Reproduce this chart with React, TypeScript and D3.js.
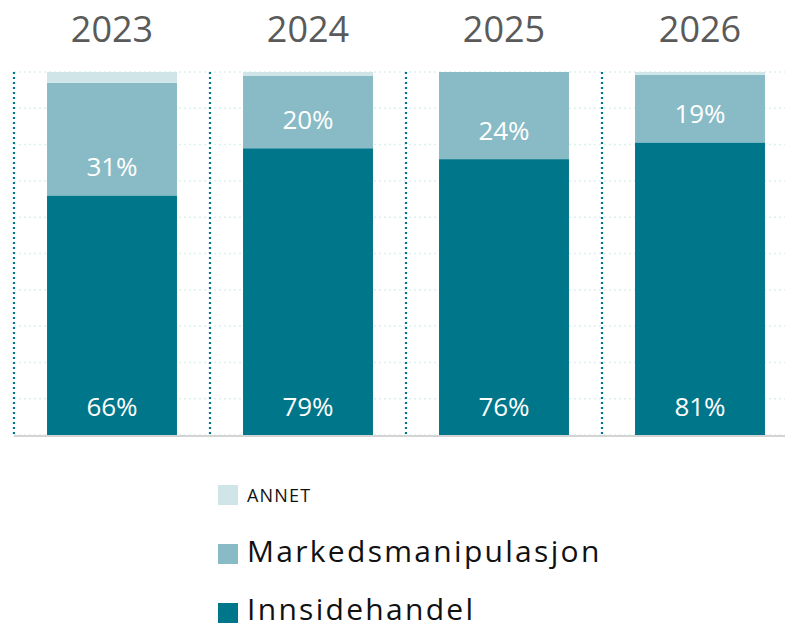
import React, { useEffect, useRef } from 'react';
import * as d3 from 'd3';

// Data
const years = ['2023', '2024', '2025', '2026'];
const innsidehandel = [66, 79, 76, 80.6];
const markedsmanipulasjon = [31, 20, 24, 18.6];
const annet = [3, 1, 0, 0.8];
const seriesNames = ['Innsidehandel', 'Markedsmanipulasjon', 'ANNET'];
const seriesColors = ['#00768a', '#88bbc5', '#d0e5e8'];
const gridTicks = [0, 10, 20, 30, 40, 50, 60, 70, 80, 90, 100];

const App: React.FC = () => {
  const ref = useRef<SVGSVGElement | null>(null);

  useEffect(() => {
    const width = 785;
    const height = 624;
    const plotLeft = 14;
    const plotRight = 798;
    const plotTop = 72;
    const plotBottom = 435;
    const font = '"Open Sans", "Noto Sans", sans-serif';

    const svg = d3.select(ref.current).attr('width', width).attr('height', height);
    svg.selectAll('*').remove();

    // scales
    const band = d3.scaleBand<string>().domain(years).range([plotLeft, plotRight]).padding(0);
    const xScale = d3
      .scaleBand<string>()
      .domain(years)
      .range([plotLeft, plotRight])
      .paddingInner(0.337)
      .paddingOuter(0.1685);
    const yScale = d3.scaleLinear().domain([0, 100]).range([plotBottom, plotTop]);

    const rows = years.map((y, i) => ({
      year: y,
      Innsidehandel: innsidehandel[i],
      Markedsmanipulasjon: markedsmanipulasjon[i],
      ANNET: annet[i],
    }));
    const stack = d3.stack<any>().keys(seriesNames)(rows);

    // gridlines
    svg
      .append('g')
      .selectAll('line')
      .data(gridTicks)
      .enter()
      .append('line')
      .attr('x1', plotLeft)
      .attr('x2', width)
      .attr('y1', (d) => yScale(d))
      .attr('y2', (d) => yScale(d))
      .attr('stroke', '#dcf0f2')
      .attr('stroke-width', 1.5)
      .attr('stroke-dasharray', '2,3');

    // bars
    stack.forEach((layer, li) => {
      svg
        .append('g')
        .selectAll('rect')
        .data(layer)
        .enter()
        .append('rect')
        .attr('x', (d: any) => xScale(d.data.year) || 0)
        .attr('width', xScale.bandwidth())
        .attr('y', (d) => yScale(d[1]))
        .attr('height', (d) => Math.max(0, yScale(d[0]) - yScale(d[1])))
        .attr('fill', seriesColors[li]);
    });

    // value labels (first two series)
    stack.slice(0, 2).forEach((layer) => {
      svg
        .append('g')
        .selectAll('text')
        .data(layer)
        .enter()
        .append('text')
        .attr('x', (d: any) => (xScale(d.data.year) || 0) + xScale.bandwidth() / 2)
        .attr('y', (d) => yScale(d[0]) - 19)
        .attr('text-anchor', 'middle')
        .attr('fill', '#ffffff')
        .style('font-family', font)
        .style('font-size', '26px')
        .text((d) => `${Math.round(d[1] - d[0])}%`);
    });

    // dotted separators
    svg
      .append('g')
      .selectAll('line')
      .data(years)
      .enter()
      .append('line')
      .attr('x1', (d) => band(d) || 0)
      .attr('x2', (d) => band(d) || 0)
      .attr('y1', plotTop)
      .attr('y2', plotBottom)
      .attr('stroke', '#00768a')
      .attr('stroke-width', 2.2)
      .attr('stroke-dasharray', '2,3');

    // baseline
    svg
      .append('line')
      .attr('x1', plotLeft)
      .attr('x2', width)
      .attr('y1', plotBottom + 1)
      .attr('y2', plotBottom + 1)
      .attr('stroke', '#d4d4d4')
      .attr('stroke-width', 2);

    // year labels on top
    svg
      .append('g')
      .selectAll('text')
      .data(years)
      .enter()
      .append('text')
      .attr('x', (d) => (xScale(d) || 0) + xScale.bandwidth() / 2)
      .attr('y', 42)
      .attr('text-anchor', 'middle')
      .attr('fill', '#5a5a5a')
      .style('font-family', font)
      .style('font-size', '36px')
      .text((d) => d);

    // legend
    const legendItems = [
      { name: 'ANNET', color: seriesColors[2], y: 485, size: 18, spacing: 1.2, base: 17 },
      { name: 'Markedsmanipulasjon', color: seriesColors[1], y: 544, size: 30, spacing: 2.3, base: 18 },
      { name: 'Innsidehandel', color: seriesColors[0], y: 603, size: 30, spacing: 2.3, base: 17 },
    ];
    const legend = svg.append('g');
    legendItems.forEach((it) => {
      legend
        .append('rect')
        .attr('x', 218)
        .attr('y', it.y)
        .attr('width', 20)
        .attr('height', 20)
        .attr('fill', it.color);
      legend
        .append('text')
        .attr('x', 247)
        .attr('y', it.y + it.base)
        .attr('fill', '#111111')
        .style('font-family', font)
        .style('font-size', `${it.size}px`)
        .style('letter-spacing', `${it.spacing}px`)
        .text(it.name);
    });
  }, []);

  return <svg ref={ref} style={{ position: 'absolute', left: 0, top: 0, display: 'block' }}></svg>;
};

export default App;
